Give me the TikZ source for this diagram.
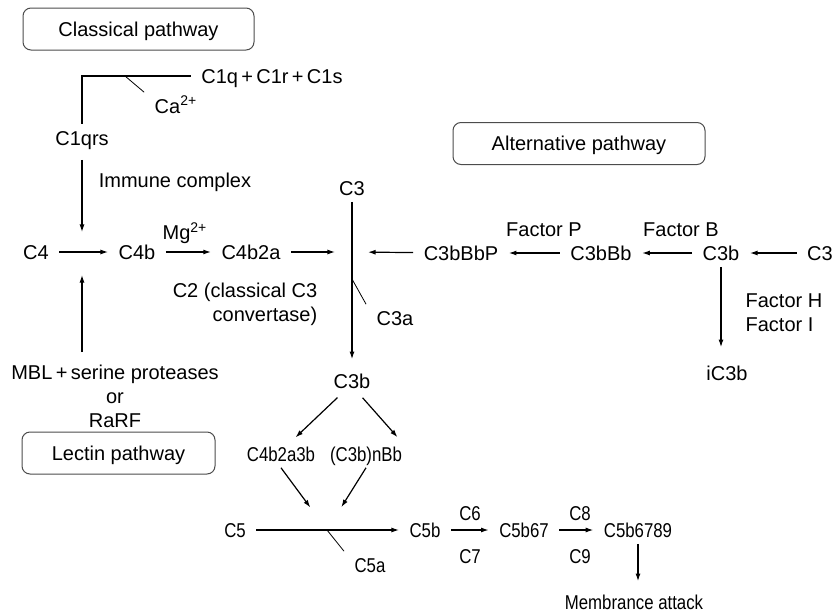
\documentclass[tikz,border=0pt]{standalone}
\usepackage{fontspec}
\setmainfont{Liberation Sans}
\newfontfamily\narrowfont[FakeStretch=0.84]{Liberation Sans}
\usetikzlibrary{arrows.meta}

\tikzstyle{txt} = [text centered, inner xsep=5pt, inner ysep=3pt, text height=7.2pt, text depth=0pt]
\tikzstyle{sml} = [txt, font=\fontsize{10}{12}\narrowfont]
\tikzstyle{lbl} = [align=center, inner sep=2pt]
\tikzstyle{pathbox} = [draw=black!70, line width=0.5pt, rounded corners=4pt, minimum height=21pt, text height=7.2pt, text depth=0pt]
\tikzstyle{cut} = [line width=0.4pt]

\begin{document}
\begin{tikzpicture}[x=0.5pt, y=-0.5pt,
>={Latex[length=3.8pt,width=2.5pt]},
font=\fontsize{10}{12}\selectfont,
line width=0.6pt,
]

\useasboundingbox (0,0) rectangle (836,611);

%CLASSICAL
\node[pathbox, minimum width=115.5pt] (classical) at (138.5,29) {Classical pathway};
\node[txt] (c1q) at (272,76) {C1q\,+\,C1r\,+\,C1s};
\node[txt] (c1qrs) at (82,138) {C1qrs};
\node[txt] (ca) at (176,106) {Ca\textsuperscript{2+}};
\node[lbl] (immune) at (175,182) {Immune complex};
\coordinate (jca) at (125,76);
\draw (c1q) -| (c1qrs);
\draw[cut] (jca) -- (ca.north west);

%C4 ROW
\node[txt] (c4) at (36,252) {C4};
\node[txt] (c4b) at (137,252) {C4b};
\node[txt] (c4b2a) at (251,252) {C4b2a};
\coordinate (j4) at (82,252);
\node[lbl] (mg) at (185,233) {Mg\textsuperscript{2+}};
\node[lbl, align=right] (c2) at (245,304) {C2 (classical C3\\convertase)};
\draw[->] (c4) -- (c4b);
\draw[->] (c4b) -- (c4b2a);
\draw[->, shorten <=4pt, shorten >=10pt] (c1qrs) -- (j4);

%LECTIN
\node[lbl, inner ysep=6pt] (mbl) at (115,396) {MBL\,+\,serine proteases\\or\\RaRF};
\node[pathbox, minimum width=96.5pt] (lectin) at (118.5,453) {Lectin pathway};
\draw[->, shorten >=11.5pt] (mbl.north -| j4) -- (j4);

%C3
\node[txt] (c3) at (352,188) {C3};
\node[txt] (c3b) at (352,381) {C3b};
\node[txt] (c3a) at (395,318) {C3a};
\coordinate (j3) at (352,252);
\coordinate (j3a) at (352,279);
\draw[->, shorten >=4pt] (c3) -- (c3b);
\draw[cut] (j3a) -- (c3a.north west);
\draw[->, shorten >=8.5pt] (c4b2a) -- (j3);

%ALTERNATIVE
\node[pathbox, minimum width=126pt] (alternative) at (579,143.5) {Alternative pathway};
\node[txt] (c3r) at (820,253) {C3};
\node[txt] (c3balt) at (721,253) {C3b};
\node[txt] (c3bbb) at (601,253) {C3bBb};
\node[txt] (c3bbbp) at (461,253) {C3bBbP};
\node[lbl] (facb) at (681,230) {Factor B};
\node[lbl] (facp) at (544,230) {Factor P};
\node[lbl, align=left, anchor=west] (fachi) at (741,313) {Factor H\\Factor I};
\node[txt] (ic3b) at (727,373) {iC3b};
\draw[->] (c3r) -- (c3balt);
\draw[->] (c3balt) -- (c3bbb);
\draw[->] (c3bbb) -- (c3bbbp);
\draw[->, shorten >=8pt] (c3bbbp) -- (j3);
\draw[->, shorten >=6pt] (c3balt) -- (c3balt |- ic3b.north);

%C3b SPLIT
\node[sml] (c4b2a3b) at (281,454) {C4b2a3b};
\node[sml] (c3bnbb) at (366,454) {(C3b)nBb};
\draw[->, shorten <=2pt, shorten >=2pt] (c3b.230) -- (c4b2a3b.50);
\draw[->, shorten <=2pt, shorten >=2pt] (c3b.-60) -- (c3bnbb.22);

%C5
\node[sml] (c5) at (235,530) {C5};
\node[sml] (c5b) at (425,530) {C5b};
\node[sml] (c5b67) at (524,530) {C5b67};
\node[sml] (c5b6789) at (638,530) {C5b6789};
\node[sml] (c5a) at (370,565) {C5a};
\node[sml] (c6) at (470,513) {C6};
\node[sml] (c7) at (470,556) {C7};
\node[sml] (c8) at (580,513) {C8};
\node[sml] (c9) at (580,556) {C9};
\node[sml] (memb) at (634,602) {Membrance attack};
\coordinate (j5) at (327,530);
\draw[->, shorten >=14pt] (c4b2a3b.south) -- (j5);
\draw[->, shorten >=13.5pt] (c3bnbb.south) -- (j5);
\draw[->] (c5) -- (c5b);
\draw[cut] (j5) -- (c5a.north west);
\draw[->] (c5b) -- (c5b67);
\draw[->] (c5b67) -- (c5b6789);
\draw[->, shorten >=3.5pt] (c5b6789) -- (c5b6789 |- memb.north);

\end{tikzpicture}
\end{document}
